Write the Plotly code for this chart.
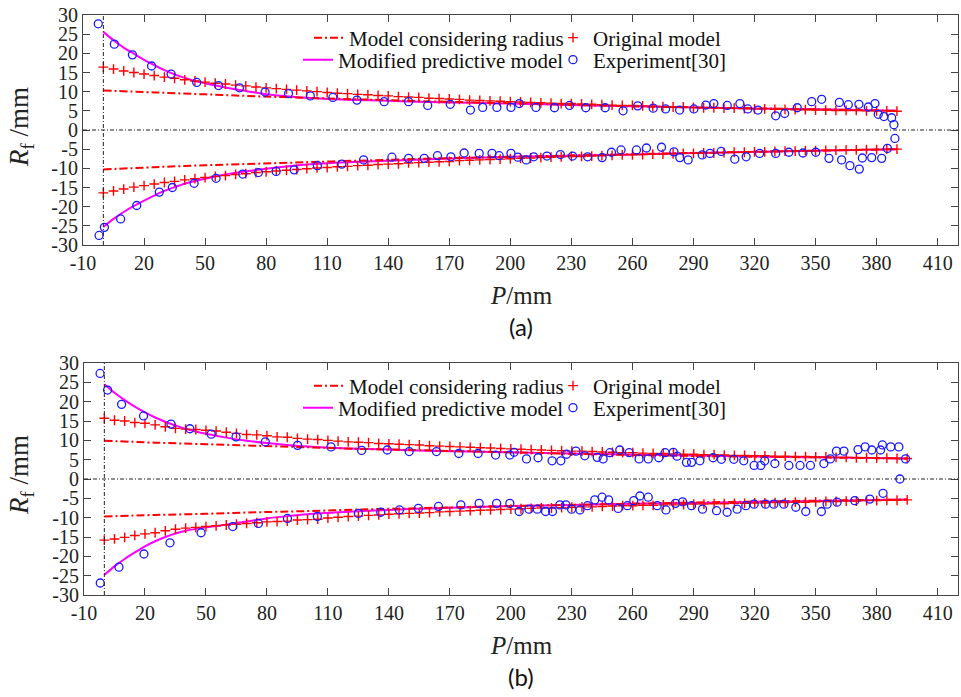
import plotly.graph_objects as go

# ---------------- data ----------------
X_TICKS = [-10, 20, 50, 80, 110, 140, 170, 200, 230, 260, 290, 320, 350, 380, 410]
X_TICK_LABELS = ["-10", "20", "50", "80", "110", "140", "170", "200", "230", "260", "290", "320", "350",
                 "380", "410"]
Y_TICKS = [-30, -25, -20, -15, -10, -5, 0, 5, 10, 15, 20, 25, 30]
Y_TICK_LABELS = ["-30", "-25", "-20", "-15", "-10", "-5", "0", "5", "10", "15", "20", "25", "30"]

CURVE_X_A = [0, 5, 10, 15, 20, 25, 30, 35, 40, 45, 50, 60, 70, 80, 90, 100, 120, 140, 160, 180, 200,
             230, 260, 290, 320, 350, 390]
CURVE_X_B = [0, 5, 10, 15, 20, 25, 30, 35, 40, 45, 50, 60, 70, 80, 90, 100, 120, 140, 160, 180, 200,
             230, 260, 290, 320, 350, 395]
MOD_A_UP = [25.6, 23.4, 21.5, 19.9, 18.3, 16.9, 15.6, 14.5, 13.6, 12.8, 12.2, 11.1, 10.2, 9.3, 8.8, 8.4,
            7.9, 7.6, 7.3, 7.1, 6.9, 6.5, 6.2, 5.9, 5.6, 5.4, 5.0]
MOD_A_LO = [-25.3, -23.2, -21.4, -19.8, -18.4, -17.1, -15.9, -14.9, -14.0, -13.3, -12.7, -11.6, -10.8,
            -10.1, -9.5, -9.0, -8.4, -8.0, -7.6, -7.3, -7.0, -6.7, -6.4, -6.0, -5.7, -5.4, -5.0]
MOD_B_UP = [24.5, 22.3, 20.4, 18.7, 17.2, 15.9, 14.8, 13.8, 13.0, 12.3, 11.7, 10.7, 9.9, 9.3, 8.8, 8.4,
            7.9, 7.6, 7.3, 7.1, 6.9, 6.6, 6.3, 6.1, 5.8, 5.6, 5.3]
MOD_B_LO = [-24.8, -22.6, -20.7, -19.0, -17.4, -16.1, -15.0, -14.1, -13.4, -12.9, -12.5, -11.8, -11.0,
            -10.2, -9.6, -9.1, -8.5, -8.0, -7.6, -7.3, -7.0, -6.7, -6.4, -6.2, -5.9, -5.7, -5.3]

RAD_X_A = [0, 25, 50, 75, 100, 125, 150, 175, 200, 250, 300, 350, 390]
RAD_X_B = [0, 25, 50, 75, 100, 125, 150, 175, 200, 250, 300, 350, 395]
RAD_A_UP = [10.3, 9.8, 9.3, 8.8, 8.4, 8.0, 7.6, 7.3, 7.0, 6.3, 5.8, 5.4, 5.0]
RAD_A_LO = [-10.3, -9.7, -9.2, -8.8, -8.4, -8.0, -7.6, -7.3, -7.0, -6.4, -5.9, -5.4, -5.0]
RAD_B_UP = [9.9, 9.4, 9.0, 8.6, 8.2, 7.8, 7.5, 7.2, 6.9, 6.3, 5.9, 5.6, 5.3]
RAD_B_LO = [-9.7, -9.3, -9.0, -8.6, -8.3, -7.9, -7.6, -7.3, -7.0, -6.5, -6.0, -5.6, -5.3]

ORIG_X_A = list(range(0, 391, 5))
ORIG_X_B = list(range(0, 396, 5))
ORIG_A_UP = [16.4, 15.9, 15.4, 15.0, 14.6, 14.2, 13.8, 13.5, 13.1, 12.8,
             12.5, 12.2, 12.0, 11.7, 11.5, 11.2, 11.0, 10.8, 10.6, 10.4,
             10.2, 10.0, 9.8, 9.6, 9.5, 9.3, 9.2, 9.0, 8.9, 8.7,
             8.6, 8.5, 8.3, 8.2, 8.1, 8.0, 7.8, 7.7, 7.6, 7.5,
             7.4, 7.3, 7.2, 7.1, 7.0, 6.9, 6.9, 6.8, 6.7, 6.6,
             6.5, 6.4, 6.4, 6.3, 6.2, 6.1, 6.0, 6.0, 5.9, 5.8,
             5.8, 5.7, 5.7, 5.6, 5.5, 5.5, 5.4, 5.4, 5.3, 5.3,
             5.2, 5.2, 5.1, 5.1, 5.1, 5.0, 5.0, 5.0, 4.9]
ORIG_A_LO = [-16.4, -15.9, -15.4, -14.9, -14.5, -14.1, -13.7, -13.4, -13.0, -12.7,
             -12.4, -12.1, -11.9, -11.6, -11.4, -11.1, -10.9, -10.7, -10.5, -10.3,
             -10.1, -9.9, -9.8, -9.6, -9.5, -9.3, -9.2, -9.0, -8.9, -8.8,
             -8.6, -8.5, -8.4, -8.3, -8.2, -8.0, -7.9, -7.8, -7.7, -7.6,
             -7.5, -7.4, -7.3, -7.2, -7.1, -7.0, -6.9, -6.9, -6.8, -6.7,
             -6.6, -6.5, -6.5, -6.4, -6.3, -6.3, -6.2, -6.1, -6.1, -6.0,
             -6.0, -5.9, -5.8, -5.8, -5.7, -5.7, -5.6, -5.5, -5.5, -5.4,
             -5.4, -5.3, -5.3, -5.2, -5.2, -5.1, -5.1, -5.0, -5.0]
ORIG_B_UP = [15.7, 15.2, 15.0, 14.6, 14.4, 14.0, 13.5, 13.1, 12.9, 12.8,
             12.6, 12.4, 12.1, 11.8, 11.5, 11.4, 11.2, 10.9, 10.8, 10.5,
             10.3, 10.2, 10.0, 9.8, 9.6, 9.5, 9.4, 9.2, 9.1, 9.0,
             8.9, 8.8, 8.6, 8.5, 8.4, 8.3, 8.2, 8.1, 8.0, 7.9,
             7.8, 7.7, 7.6, 7.5, 7.4, 7.3, 7.2, 7.2, 7.1, 7.0,
             6.9, 6.8, 6.8, 6.7, 6.6, 6.6, 6.5, 6.4, 6.4, 6.3,
             6.3, 6.2, 6.1, 6.1, 6.0, 6.0, 5.9, 5.9, 5.8, 5.8,
             5.7, 5.7, 5.6, 5.6, 5.5, 5.5, 5.4, 5.4, 5.3, 5.3]
ORIG_B_LO = [-15.8, -15.5, -15.1, -14.6, -14.2, -13.9, -13.4, -13.0, -12.7, -12.5,
             -12.3, -12.1, -11.9, -11.7, -11.5, -11.3, -11.1, -11.0, -10.9, -10.6,
             -10.5, -10.4, -10.1, -9.9, -9.7, -9.6, -9.4, -9.3, -9.1, -9.0,
             -8.9, -8.8, -8.7, -8.5, -8.4, -8.3, -8.2, -8.1, -8.0, -7.9,
             -7.8, -7.7, -7.6, -7.5, -7.5, -7.4, -7.3, -7.2, -7.2, -7.1,
             -7.0, -6.9, -6.9, -6.8, -6.8, -6.7, -6.7, -6.6, -6.5, -6.5,
             -6.4, -6.4, -6.3, -6.3, -6.2, -6.2, -6.1, -6.1, -6.0, -6.0,
             -5.9, -5.8, -5.8, -5.7, -5.7, -5.6, -5.6, -5.5, -5.5, -5.4]

EXP_A_UP_X = [-2.5, 5.4, 14.3, 23.7, 33.3, 45.9, 56.6, 66.9, 79.5, 91, 101.7, 112.8, 124.6, 138, 150,
              159.4, 170.5, 180.4, 186.4, 193.4, 200.3, 204.4, 212.6, 221.7, 229.1, 237.1, 246.6, 255.4,
              262.6, 270.2, 276.3, 283.2, 290.2, 296.1, 300, 306.6, 312.8, 316.7, 321.7, 330.4, 334.8,
              341, 348.1, 353, 361.7, 366.1, 371.3, 375.9, 379.2, 380.8, 383.6, 387.4, 388.5, 389]
EXP_A_UP_Y = [27.7, 22.4, 19.6, 16.7, 14.6, 12.4, 11.6, 11.0, 9.9, 9.5, 8.9, 8.5, 7.8, 7.4, 7.4,
              6.4, 6.7, 5.2, 5.9, 5.9, 5.9, 6.9, 5.9, 5.8, 6.4, 5.8, 5.8, 5.0,
              6.3, 5.7, 5.5, 5.2, 5.5, 6.5, 6.9, 6.4, 6.9, 5.5, 5.2, 3.7, 4.3,
              5.8, 7.4, 8.0, 7.2, 6.6, 6.7, 6.0, 6.9, 4.1, 3.5, 3.2, 1.4, -2.2]
EXP_A_LO_X = [-2.1, 0.5, 8.5, 16.4, 27.5, 33.9, 44.6, 55.4, 68.5, 76.2, 84.9, 93.8, 105.2, 117.2, 127.9,
              141.8, 150, 157.7, 164.2, 170.8, 177.3, 184.7, 191, 194.5, 200.3, 203.7, 207.8, 211.5, 218,
              224.6, 230.6, 238, 245.1, 249.7, 254.4, 262, 266.9, 274.3, 280.4, 283.3, 287.4, 294.3,
              298.1, 303.6, 310.3, 315.9, 322.5, 330.4, 336.9, 343.8, 350.1, 356.6, 362.8, 366.9, 371.5,
              373, 377.6, 382.5, 385.3]
EXP_A_LO_Y = [-27.5, -25.4, -23.2, -19.7, -16.2, -15.0, -13.9, -12.6, -11.5, -11.1, -10.8, -10.4, -9.3,
              -8.9, -7.8, -7.1, -7.4, -7.4, -6.7, -7.0, -6.0, -6.1, -6.1, -6.7, -6.1, -7.1, -7.8, -7.0,
              -6.8, -6.4, -6.8, -7.0, -7.2, -5.8, -5.2, -5.2, -4.7, -4.5, -5.7, -7.2, -7.8, -6.5, -6.1,
              -5.6, -7.6, -7.0, -6.1, -6.1, -5.8, -6.0, -5.8, -7.4, -7.8, -9.3, -10.2, -7.3, -7.2, -7.4,
              -4.8]
EXP_B_UP_X = [-2.1, 1.6, 8.5, 19.3, 32.8, 42.1, 52.6, 64.8, 79.2, 95.1, 111.5, 126.6, 139.2, 150, 163.4,
              174.4, 183.9, 192.5, 199.5, 201.6, 207.7, 213.4, 220.3, 224.6, 227.4, 232, 236.4, 242.5,
              245.4, 248.7, 253.6, 258.2, 263.1, 267.6, 272.8, 275.9, 279.9, 281.8, 286.4, 288.9, 293,
              299.5, 303.6, 309.7, 314.6, 319.7, 323, 324.9, 329.9, 336.8, 342.3, 347.4, 354, 357.2,
              360.2, 363.9, 370.8, 374.3, 377.6, 381.9, 382.8, 386.9, 390.9, 394.2, 391.4]
EXP_B_UP_Y = [27.3, 23.0, 19.3, 16.3, 14.2, 13.0, 11.6, 10.9, 9.6, 8.7, 8.3, 7.4, 7.5, 7.1, 7.1,
              6.6, 6.6, 6.2, 6.2, 6.9, 5.2, 5.5, 4.7, 4.7, 6.4, 7.2, 6.0, 5.6,
              5.2, 6.8, 7.5, 6.8, 5.2, 5.2, 5.5, 6.8, 6.9, 5.9, 4.3, 4.3, 4.7,
              5.5, 5.1, 5.1, 4.7, 3.5, 3.5, 4.7, 4.0, 3.5, 3.5, 3.5, 4.0, 5.2,
              7.2, 7.2, 7.6, 8.3, 7.5, 7.5, 8.8, 8.3, 8.3, 5.2, 0.0]
EXP_B_LO_X = [-2.0, 7.2, 19.5, 32.3, 47.6, 63.2, 75.8, 90.1, 104.8, 125, 136, 145.2, 154.5, 164.4, 175.4,
              184.4, 193, 199.5, 204.1, 208.9, 213, 217.1, 220.5, 224.1, 227.1, 229.9, 234, 237.7, 241.3,
              244.9, 248.1, 252.8, 257.3, 260.5, 263.5, 267.6, 272, 276.3, 281, 284.5, 288.9, 294.3,
              301.2, 306.4, 311.3, 315.6, 319.7, 325.3, 329.4, 334.3, 340.2, 345.1, 352.8, 355.6, 360.5,
              369.2, 376.6, 383.1]
EXP_B_LO_Y = [-26.9, -22.8, -19.4, -16.5, -13.9, -12.3, -11.5, -10.2, -9.7, -8.9, -8.6, -8.0, -7.6, -7.1,
              -6.7, -6.3, -6.3, -6.3, -8.4, -7.8, -7.8, -8.4, -8.4, -6.7, -6.7, -7.8, -8.0, -6.9, -5.4,
              -4.7, -5.4, -7.6, -6.9, -5.6, -4.4, -4.7, -6.9, -8.0, -6.3, -5.9, -6.9, -7.8, -8.2, -8.6,
              -7.8, -6.9, -6.5, -6.5, -6.5, -6.5, -7.3, -8.4, -8.4, -6.5, -6.0, -5.6, -5.2, -3.7]

NAMES = ["Model considering radius", "Modified predictive model", "Original model", "Experiment[30]"]

# ---------------- styles ----------------
W, H = 961, 697
SERIF = '"Liberation Serif", "Times New Roman", Times, serif'
RED = "#ff0000"
MAG = "#ff00ff"
BLUE = "#1a1aff"
AX = "#444444"


def join(a, b):
    return list(a) + [None] + list(b)


fig = go.Figure()

panels = [
    dict(xa="x", ya="y", rx=RAD_X_A, ru=RAD_A_UP, rl=RAD_A_LO, cx=CURVE_X_A, mu=MOD_A_UP, ml=MOD_A_LO,
         ox=ORIG_X_A, ou=ORIG_A_UP, ol=ORIG_A_LO, eux=EXP_A_UP_X, euy=EXP_A_UP_Y,
         elx=EXP_A_LO_X, ely=EXP_A_LO_Y, legs=("legend", "legend2", "legend3", "legend4")),
    dict(xa="x2", ya="y2", rx=RAD_X_B, ru=RAD_B_UP, rl=RAD_B_LO, cx=CURVE_X_B, mu=MOD_B_UP, ml=MOD_B_LO,
         ox=ORIG_X_B, ou=ORIG_B_UP, ol=ORIG_B_LO, eux=EXP_B_UP_X, euy=EXP_B_UP_Y,
         elx=EXP_B_LO_X, ely=EXP_B_LO_Y, legs=("legend5", "legend6", "legend7", "legend8")),
]

for p in panels:
    fig.add_trace(go.Scatter(x=join(p["cx"], p["cx"]), y=join(p["mu"], p["ml"]), mode="lines",
                             line=dict(color=MAG, width=2, shape="spline", smoothing=0.8),
                             name=NAMES[1], legend=p["legs"][1], xaxis=p["xa"], yaxis=p["ya"]))
    fig.add_trace(go.Scatter(x=join(p["rx"], p["rx"]), y=join(p["ru"], p["rl"]), mode="lines",
                             line=dict(color=RED, width=2, dash="8px,3px,2px,3px", shape="spline"),
                             name=NAMES[0], legend=p["legs"][0], xaxis=p["xa"], yaxis=p["ya"]))
    fig.add_trace(go.Scatter(x=join(p["ox"], p["ox"]), y=join(p["ou"], p["ol"]), mode="markers",
                             marker=dict(symbol="cross-thin", size=7, line=dict(color=RED, width=1.4)),
                             name=NAMES[2], legend=p["legs"][2], xaxis=p["xa"], yaxis=p["ya"]))
    fig.add_trace(go.Scatter(x=join(p["eux"], p["elx"]), y=join(p["euy"], p["ely"]), mode="markers",
                             marker=dict(symbol="circle-open", size=8, color=BLUE,
                                         line=dict(color=BLUE, width=1.3)),
                             name=NAMES[3], legend=p["legs"][3], xaxis=p["xa"], yaxis=p["ya"]))

axis_common = dict(showgrid=False, zeroline=False, showline=True, linecolor=AX, linewidth=1,
                   mirror="ticks", ticks="inside", ticklen=7, tickcolor=AX, tickwidth=1,
                   automargin=False,
                   tickfont=dict(family=SERIF, size=20, color="#222222"))
xa = dict(axis_common, range=[-10, 420], tickmode="array", tickvals=X_TICKS, ticktext=X_TICK_LABELS)
ya = dict(axis_common, range=[-30, 30], tickmode="array", tickvals=Y_TICKS, ticktext=Y_TICK_LABELS)

top = (15, 245)
bot = (363, 595)


def ydom(t, b):
    return [1 - b / H, 1 - t / H]


legend_font = dict(family=SERIF, size=21, color="#111111")


def leg(xpx, ypx, anchor):
    return dict(x=xpx / W, y=1 - ypx / H, xanchor=anchor, yanchor="middle", font=legend_font,
                bgcolor="rgba(0,0,0,0)", borderwidth=0, itemwidth=30, tracegroupgap=0,
                itemsizing="trace")


fig.update_layout(
    width=W, height=H, margin=dict(l=0, r=0, t=0, b=0, autoexpand=False),
    paper_bgcolor="white", plot_bgcolor="white",
    font=dict(family=SERIF, size=20, color="#222222"),
    xaxis=dict(xa, domain=[83 / W, 958 / W], anchor="y"),
    yaxis=dict(ya, domain=ydom(*top), anchor="x"),
    xaxis2=dict(xa, domain=[84 / W, 958 / W], anchor="y2"),
    yaxis2=dict(ya, domain=ydom(*bot), anchor="x2"),
    legend=leg(569, 38, "right"),
    legend2=leg(569, 60, "right"),
    legend3=leg(553, 38, "left"),
    legend4=leg(553, 60, "left"),
    legend5=leg(569, 386, "right"),
    legend6=leg(569, 408, "right"),
    legend7=leg(553, 386, "left"),
    legend8=leg(553, 408, "left"),
    showlegend=True,
)

# zero reference lines
for xr, yr in (("x", "y"), ("x2", "y2")):
    fig.add_shape(type="line", xref=xr, yref=yr, x0=-10, x1=420, y0=0, y1=0,
                  line=dict(color="#222222", width=1, dash="4px,2px,1px,2px"))
    fig.add_shape(type="line", xref=xr, yref=yr, x0=0, x1=0, y0=-30, y1=30,
                  line=dict(color="#222222", width=1, dash="4px,2px,1px,2px"))

# titles
for (t, b), lab in ((top, "(a)"), (bot, "(b)")):
    fig.add_annotation(text="<i>R</i><sub>f</sub> /mm", x=21 / W, y=1 - (t + 112) / H, xref="paper",
                       yref="paper", textangle=-90, showarrow=False,
                       font=dict(family=SERIF, size=27, color="#222222"),
                       xanchor="center", yanchor="middle")
    fig.add_annotation(text="<i>P</i>/mm", x=521 / W, y=1 - (b + 50) / H, xref="paper", yref="paper",
                       showarrow=False, font=dict(family=SERIF, size=25, color="#222222"),
                       xanchor="center", yanchor="middle")
    fig.add_annotation(text=lab, x=521 / W, y=1 - (b + 81) / H, xref="paper", yref="paper",
                       showarrow=False, font=dict(family="Lato", size=24, color="#111111"),
                       xanchor="center", yanchor="middle")

fig.write_html("out.html")
